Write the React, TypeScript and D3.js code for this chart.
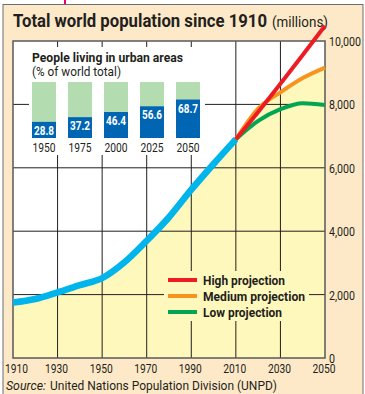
import React from "react";
import * as d3 from "d3";

const histYears = [1910, 1920, 1930, 1940, 1950, 1960, 1970, 1980, 1990, 2000, 2010];
const histPop = [1750, 1860, 2070, 2300, 2520, 3020, 3700, 4440, 5310, 6120, 6900];

const projYears = [2010, 2020, 2030, 2040, 2050];
const highProj = [6900, 7760, 8650, 9560, 10480];
const mediumProj = [6900, 7870, 8380, 8830, 9160];
const lowProj = [6900, 7480, 7850, 8040, 7980];

const urbanYears = ["1950", "1975", "2000", "2025", "2050"];
const urbanPct = [28.8, 37.2, 46.4, 56.6, 68.7];

const xTicks = [1910, 1930, 1950, 1970, 1990, 2010, 2030, 2050];
const yTicks = [0, 2000, 4000, 6000, 8000, 10000];

const legendItems = [
  { label: "High projection", color: "#ed1c24", w: 82 },
  { label: "Medium projection", color: "#f7941d", w: 102 },
  { label: "Low projection", color: "#00a651", w: 79 },
];

const FONT = "Roboto, 'Liberation Sans', sans-serif";
const INK = "#231f20";

function T(props: {
  x: number; y: number; w?: number; size: number; bold?: boolean; italic?: boolean;
  anchor?: "start" | "middle" | "end"; fill?: string; children: React.ReactNode;
}) {
  const { x, y, w, size, bold, italic, anchor, fill, children } = props;
  return (
    <text
      x={x}
      y={y}
      fontSize={size}
      fontWeight={bold ? "bold" : "normal"}
      fontStyle={italic ? "italic" : "normal"}
      textAnchor={anchor || "start"}
      fill={fill || INK}
      {...(w ? { textLength: w, lengthAdjust: "spacingAndGlyphs" } : {})}
    >
      {children}
    </text>
  );
}

export default function App() {
  const W = 365, H = 394;
  const x = d3.scaleLinear().domain([1910, 2050]).range([13, 325]);
  const y = d3.scaleLinear().domain([0, 10000]).range([358, 41]);

  const hist = histYears.map((yr, i) => [yr, histPop[i]] as [number, number]);
  const mk = (arr: number[]) => projYears.map((yr, i) => [yr, arr[i]] as [number, number]);

  const line = d3.line<[number, number]>().x(d => x(d[0])).y(d => y(d[1])).curve(d3.curveMonotoneX);
  const area = d3.area<[number, number]>().x(d => x(d[0])).y0(y(0)).y1(d => y(d[1])).curve(d3.curveMonotoneX);
  const fillData = [...hist, ...mk(mediumProj).slice(1)];

  const bx = d3.scaleBand<string>().domain(urbanYears).range([26, 206]).paddingInner(1 / 3).paddingOuter(1 / 6);
  const by = d3.scaleLinear().domain([0, 100]).range([138, 82]);

  const fmt = d3.format(",");

  return (
    <svg width={W} height={H} style={{ position: "absolute", left: 0, top: 0, fontFamily: FONT }}>
      <line x1={65} y1={0} x2={65} y2={5} stroke="#e6007e" strokeWidth={2} />
      <rect x={3} y={4.5} width={360} height={395} fill="#fde9c7" stroke="#6d6e71" strokeWidth={1} />
      <T x={13} y={27} w={254} size={19} bold>Total world population since 1910</T>
      <T x={272} y={27} w={56} size={14.5}>(millions)</T>

      {/* plot background */}
      <rect x={x(1910)} y={y(10000)} width={x(2050) - x(1910)} height={y(0) - y(10000)} fill="#ffffff" />
      <path d={area(fillData) || ""} fill="#fff8bc" />

      {/* grid */}
      {xTicks.slice(1, -1).map(t => (
        <line key={"gx" + t} x1={x(t)} x2={x(t)} y1={y(10000)} y2={y(0)} stroke={INK} strokeWidth={1} />
      ))}
      {yTicks.slice(1, -1).map(t => (
        <line key={"gy" + t} x1={x(1910)} x2={x(2050)} y1={y(t)} y2={y(t)} stroke={INK} strokeWidth={1} />
      ))}

      {/* inset */}
      <rect x={29} y={47} width={176} height={108} fill="#ffffff" />
      <T x={32} y={62} w={151} size={13} bold>People living in urban areas</T>
      <T x={32} y={75.5} w={89} size={13}>(% of world total)</T>
      {urbanYears.map((yr, i) => {
        const cx = (bx(yr) || 0) + bx.bandwidth() / 2;
        return (
          <g key={yr}>
            <rect x={bx(yr)} y={by(100)} width={bx.bandwidth()} height={by(0) - by(100)} fill="#b3ddb0" />
            <rect x={bx(yr)} y={by(urbanPct[i])} width={bx.bandwidth()} height={by(0) - by(urbanPct[i])} fill="#0066b3" />
            <T x={cx} y={by(urbanPct[i]) + 13} w={20} size={12.5} bold anchor="middle" fill="#ffffff">
              {urbanPct[i].toFixed(1)}
            </T>
            <T x={cx} y={151.5} w={23} size={12.5} anchor="middle">{yr}</T>
          </g>
        );
      })}

      {/* legend */}
      <rect x={164} y={271} width={145} height={50} fill="#fff8bc" />
      {legendItems.map((d, i) => (
        <g key={d.label}>
          <line x1={168} x2={197} y1={280 + i * 16} y2={280 + i * 16} stroke={d.color} strokeWidth={4} />
          <T x={203} y={284.5 + i * 16} w={d.w} size={13} bold>{d.label}</T>
        </g>
      ))}

      {/* plot frame */}
      <rect x={x(1910)} y={y(10000)} width={x(2050) - x(1910)} height={y(0) - y(10000)} fill="none" stroke="#58595b" strokeWidth={1.5} />

      {/* lines */}
      <path d={line(hist) || ""} fill="none" stroke="#00b5ec" strokeWidth={6.5} />
      <path d={line(mk(lowProj)) || ""} fill="none" stroke="#00a651" strokeWidth={4} />
      <path d={line(mk(mediumProj)) || ""} fill="none" stroke="#f7941d" strokeWidth={4} />
      <path d={line(mk(highProj)) || ""} fill="none" stroke="#ed1c24" strokeWidth={4} />

      {/* axes labels */}
      {xTicks.map(t => (
        <T key={"xl" + t} x={t === 1910 ? x(t) + 3.5 : x(t) - 1} y={373} w={23} size={13} anchor="middle">{t}</T>
      ))}
      {yTicks.map(t => (
        <T key={"yl" + t} x={329} y={y(t) + 5} w={t === 0 ? 6 : t === 10000 ? 32 : 26} size={13}>{fmt(t)}</T>
      ))}
      <T x={6} y={389.5} w={40} size={12.5} italic>Source:</T>
      <T x={50} y={389.5} w={227} size={12.5}>United Nations Population Division (UNPD)</T>
    </svg>
  );
}
